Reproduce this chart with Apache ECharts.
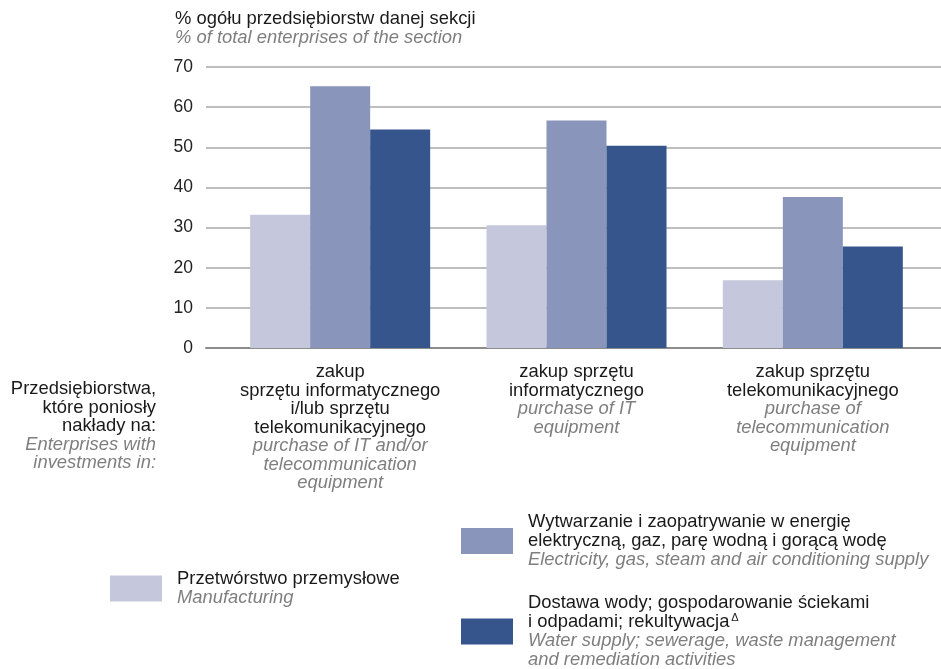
<!DOCTYPE html>
<html>
<head>
<meta charset="utf-8">
<script src="https://cdn.jsdelivr.net/npm/echarts@6/dist/echarts.min.js"></script>
<style>html,body{margin:0;padding:0;background:#fff}#c{width:941px;height:669px}</style>
</head>
<body>
<div id="c"></div>
<script>
// Data
var categoriesPL = [
  ['zakup', 'sprzętu informatycznego', 'i/lub sprzętu', 'telekomunikacyjnego'],
  ['zakup sprzętu', 'informatycznego'],
  ['zakup sprzętu', 'telekomunikacyjnego']
];
var categoriesEN = [
  ['purchase of IT and/or', 'telecommunication', 'equipment'],
  ['purchase of IT', 'equipment'],
  ['purchase of', 'telecommunication', 'equipment']
];
var seriesNames = ['Manufacturing', 'Electricity', 'Water'];
var manufacturing = [33.2, 30.6, 16.9];
var electricity = [65.2, 56.7, 37.6];
var water = [54.4, 50.4, 25.3];
var yTicks = [0, 10, 20, 30, 40, 50, 60, 70];
var legendPL = [
  ['Przetwórstwo przemysłowe'],
  ['Wytwarzanie i zaopatrywanie w energię', 'elektryczną, gaz, parę wodną i gorącą wodę'],
  ['Dostawa wody; gospodarowanie ściekami', 'i odpadami; rekultywacja']
];
var legendEN = [
  ['Manufacturing'],
  ['Electricity, gas, steam and air conditioning supply'],
  ['Water supply; sewerage, waste management', 'and remediation activities']
];
var titlePL = '% ogółu przedsiębiorstw danej sekcji';
var titleEN = '% of total enterprises of the section';
var sideLabelPL = ['Przedsiębiorstwa,', 'które poniosły', 'nakłady na:'];
var sideLabelEN = ['Enterprises with', 'investments in:'];

var colors = ['#c5c7dd', '#8995ba', '#35558c'];
var FONT = 'Arial, "Liberation Sans", sans-serif';
var FS = 18.4;
var BLACK = '#1a1a1a', GRAY = '#7f7f7f';

var chart = echarts.init(document.getElementById('c'), null, {renderer: 'canvas'});

var catIdx = categoriesPL.map(function (_, i) { return String(i); });

function richLines(pl, en) {
  var out = [];
  pl.forEach(function (t) { out.push('{a|' + t + '}'); });
  en.forEach(function (t) { out.push('{b|' + t + '}'); });
  return out.join('\n');
}

function mkRich(lh) {
  return {
    a: {fontFamily: FONT, fontSize: FS, lineHeight: lh, color: BLACK, fill: BLACK},
    b: {fontFamily: FONT, fontSize: FS, lineHeight: lh, color: GRAY, fill: GRAY, fontStyle: 'italic'}
  };
}
var legRich = {
  a: {fontFamily: FONT, fontSize: FS, lineHeight: 19, color: BLACK, padding: [0, 0, 0, 10]},
  b: {fontFamily: FONT, fontSize: FS, lineHeight: 19, color: GRAY, fontStyle: 'italic', padding: [0, 0, 0, 10]},
  s: {fontFamily: FONT, fontSize: 11, lineHeight: 19, color: BLACK, verticalAlign: 'top', padding: [0, 0, 0, 2]}
};

function legendFormatter(i) {
  return function () {
    var lines = [];
    legendPL[i].forEach(function (t, k) {
      var s = '{a|' + t + '}';
      if (i === 2 && k === legendPL[i].length - 1) s += '{s|Δ}';
      lines.push(s);
    });
    legendEN[i].forEach(function (t) { lines.push('{b|' + t + '}'); });
    return lines.join('\n');
  };
}

var legendPos = [
  {left: 110, top: 570},
  {left: 461, top: 513},
  {left: 461, top: 594}
];

var option = {
  animation: false,
  graphic: [
    {
      type: 'text', x: 175, y: 9,
      style: {
        text: '{a|' + titlePL + '}\n{b|' + titleEN + '}',
        rich: mkRich(19), fontFamily: FONT, fontSize: FS
      }
    },
    {
      type: 'text', x: 156, y: 380,
      style: {
        text: richLines(sideLabelPL, sideLabelEN),
        rich: mkRich(18.5), align: 'right', verticalAlign: 'top', fontFamily: FONT, fontSize: FS
      }
    }
  ],
  legend: legendPos.map(function (p, i) {
    return {
      left: p.left, top: p.top, orient: 'vertical', padding: 0,
      data: [seriesNames[i]], selectedMode: false,
      itemWidth: 52, itemHeight: 26, icon: 'rect',
      formatter: legendFormatter(i),
      textStyle: {rich: legRich, fontFamily: FONT, fontSize: FS}
    };
  }),
  grid: [
    {left: 206, right: 0, top: 67, bottom: 321},
    {left: 222, right: 10, top: 67, bottom: 321}
  ],
  xAxis: [
    {
      type: 'category', gridIndex: 0, data: catIdx,
      axisLine: {show: true, lineStyle: {color: '#8c8c8c', width: 2}},
      axisTick: {show: false}, axisLabel: {show: false}, splitLine: {show: false}
    },
    {
      type: 'category', gridIndex: 1, data: catIdx,
      axisLine: {show: false}, axisTick: {show: false},
      axisLabel: {
        margin: 15, interval: 0,
        formatter: function (v) { var i = +v; return richLines(categoriesPL[i], categoriesEN[i]); },
        rich: mkRich(18.5)
      }
    }
  ],
  yAxis: [
    {
      type: 'value', gridIndex: 0, min: yTicks[0], max: yTicks[yTicks.length - 1], interval: 10,
      axisLine: {show: false}, axisTick: {show: false},
      axisLabel: {margin: 13, color: '#222', fontFamily: FONT, fontSize: 17.5},
      splitLine: {lineStyle: {color: '#a8a8a8', width: 1.5}}
    },
    {
      type: 'value', gridIndex: 1, min: yTicks[0], max: yTicks[yTicks.length - 1], interval: 10,
      axisLine: {show: false}, axisTick: {show: false}, axisLabel: {show: false}, splitLine: {show: false}
    }
  ],
  series: [manufacturing, electricity, water].map(function (d, i) {
    return {
      name: seriesNames[i], type: 'bar', xAxisIndex: 1, yAxisIndex: 1,
      data: d, barWidth: 60, barGap: '0%',
      itemStyle: {color: colors[i]}, emphasis: {disabled: true}
    };
  })
};
chart.setOption(option);
</script>
</body>
</html>
